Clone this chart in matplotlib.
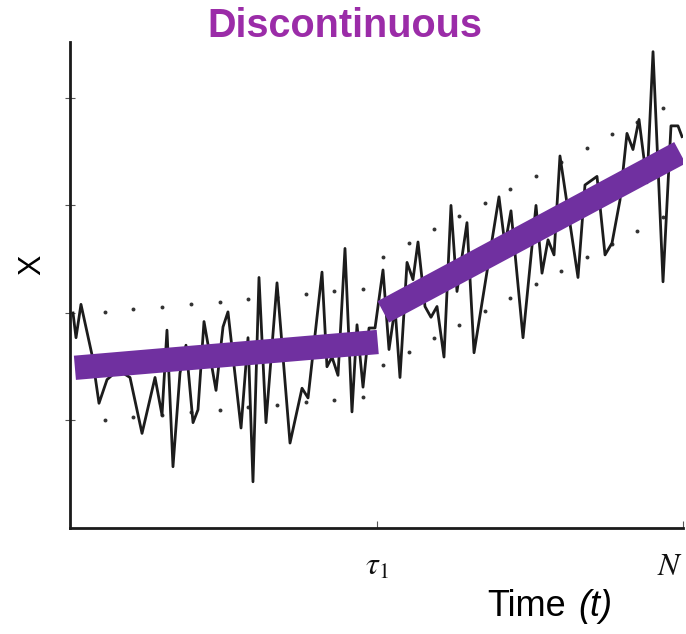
import matplotlib
matplotlib.use("Agg")
import matplotlib.pyplot as plt

plt.rcParams["font.family"] = ["Liberation Sans", "DejaVu Sans"]
plt.rcParams["mathtext.fontset"] = "stix"

# observed series (time, value)
t = [0.49, 0.98, 1.79, 3.59, 4.73, 6.04, 7.83, 9.79, 11.75, 13.87, 15.01, 15.82,
     16.80, 17.94, 18.92, 20.07, 20.88, 21.86, 23.82, 24.96, 25.77, 27.90, 29.04,
     29.85, 30.83, 31.97, 33.77, 35.89, 37.85, 38.83, 41.11, 41.92, 42.74, 43.72,
     44.86, 46.00, 46.82, 47.80, 48.78, 49.76, 51.06, 52.04, 53.02, 53.83, 54.98,
     55.95, 56.77, 57.91, 58.89, 59.87, 61.01, 62.15, 63.13, 64.76, 65.91, 69.98,
     70.96, 71.94, 73.90, 76.02, 77.00, 77.98, 78.96, 79.93, 82.87, 84.01, 85.97,
     87.28, 88.42, 89.72, 90.86, 91.84, 92.82, 94.13, 95.11, 96.74, 98.04, 99.18,
     99.84]
x = [2.00, 1.77, 2.08, 1.61, 1.16, 1.38, 1.47, 1.40, 0.88, 1.40, 1.05, 1.84,
     0.57, 1.44, 1.70, 0.98, 1.10, 1.92, 1.28, 1.87, 2.01, 0.93, 1.77,
     0.43, 2.33, 0.98, 2.28, 0.79, 1.30, 1.21, 2.38, 1.50, 1.59, 1.42,
     2.60, 1.08, 1.89, 1.31, 1.86, 1.86, 2.40, 1.66, 2.05, 1.40, 2.47,
     2.31, 2.66, 2.06, 1.96, 2.06, 1.59, 3.00, 2.20, 2.84, 1.63, 3.08,
     2.63, 2.95, 1.77, 3.00, 2.37, 2.68, 2.54, 3.46, 2.33, 3.19, 3.27,
     2.54, 2.65, 3.05, 3.67, 3.52, 3.80, 3.21, 4.43, 2.29, 3.74, 3.74,
     3.64]

# fitted segments
seg1_t = [0.8, 50.2]
seg1_x = [1.49, 1.73]
seg2_t = [51.1, 99.5]
seg2_x = [2.01, 3.49]

# dotted bands around each segment
band1_t = [5.7, 10.3, 15.0, 19.7, 24.5, 29.0, 33.8, 38.5, 43.1, 47.8]
band1_hi = [2.01, 2.04, 2.06, 2.08, 2.10, 2.13, 2.15, 2.18, 2.20, 2.22]
band1_lo = [1.00, 1.03, 1.05, 1.08, 1.10, 1.13, 1.14, 1.17, 1.19, 1.22]
band2_t = [51.1, 55.3, 59.4, 63.5, 67.7, 71.8, 76.0, 80.1, 84.3, 88.4, 92.5, 96.7]
band2_hi = [2.52, 2.65, 2.78, 2.90, 3.02, 3.15, 3.27, 3.40, 3.53, 3.66, 3.78, 3.91]
band2_lo = [1.52, 1.64, 1.77, 1.89, 2.02, 2.14, 2.27, 2.39, 2.52, 2.64, 2.76, 2.89]

xtick_pos = [50, 100]
xtick_labels = [r"$\tau_1$", r"$N$"]
ytick_pos = [1, 2, 3, 4]

purple = "#7030a0"
title_color = "#9b2ca8"

fig = plt.figure(figsize=(6.86, 6.34), dpi=100)
ax = fig.add_axes([70 / 686, 1 - 528 / 634, 613 / 686, 486 / 634])

for bt, hi, lo in [(band1_t, band1_hi, band1_lo), (band2_t, band2_hi, band2_lo)]:
    ax.scatter(bt, hi, s=8, color="#333333", zorder=2, linewidths=0)
    ax.scatter(bt, lo, s=8, color="#333333", zorder=2, linewidths=0)

ax.plot(t, x, color="#1c1c1c", linewidth=2.0, zorder=3)

for st, sx in [(seg1_t, seg1_x), (seg2_t, seg2_x)]:
    ax.plot(st, sx, color=purple, linewidth=17.5, solid_capstyle="butt", zorder=4)

ax.set_xlim(0, 100)
ax.set_ylim(0, 4.52)

ax.spines["top"].set_visible(False)
ax.spines["right"].set_visible(False)
for side in ["left", "bottom"]:
    ax.spines[side].set_linewidth(2.0)
    ax.spines[side].set_color("#1a1a1a")

ax.set_yticks(ytick_pos)
ax.set_yticklabels([])
ax.tick_params(axis="y", direction="inout", length=7, width=0.8, colors="#555555")
ax.set_xticks(xtick_pos)
ax.set_xticklabels(xtick_labels, fontsize=23)
ax.get_xticklabels()[1].set_ha("right")
ax.tick_params(axis="x", direction="in", length=5, width=0.8, colors="#555555",
               labelcolor="#111111", pad=17)

fig.text(0.503, 1 - 26 / 634, "Discontinuous", ha="center", va="center",
         fontsize=28.5, fontweight="bold", color=title_color)
fig.text(32 / 686, 1 - 265 / 634, "X", ha="center", va="center", fontsize=22,
         rotation=90)
fig.text(487 / 686, 1 - 606 / 634, "Time", ha="left", va="center", fontsize=26)
fig.text(578 / 686, 1 - 606 / 634, "(t)", ha="left", va="center", fontsize=26,
         style="italic")

fig.savefig("out.png", dpi=100)
